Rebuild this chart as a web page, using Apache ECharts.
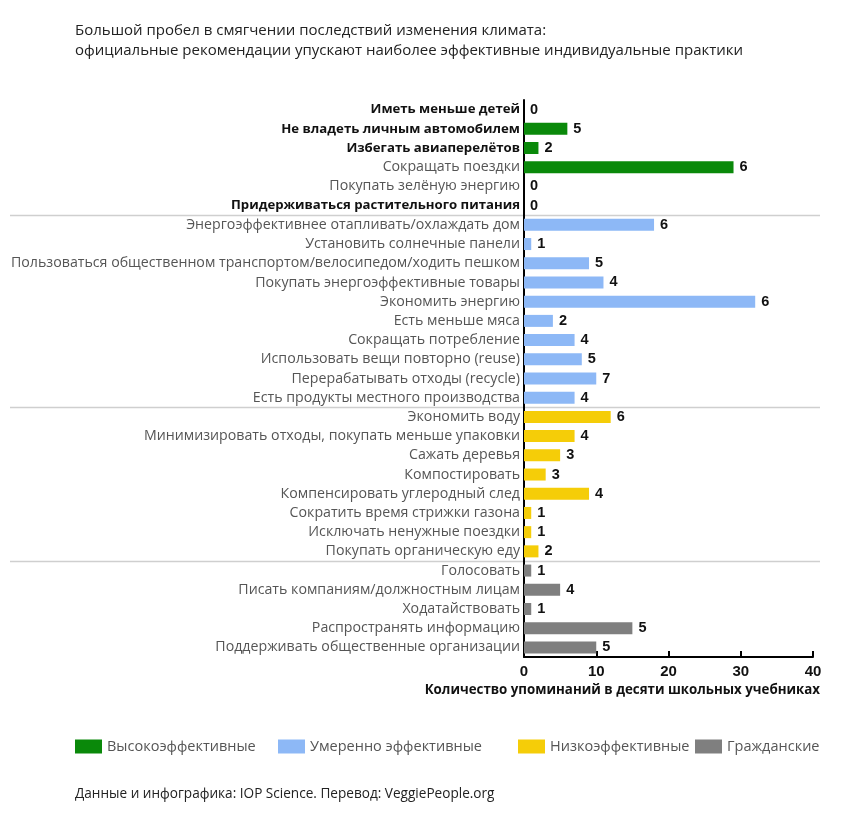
<!DOCTYPE html>
<html><head><meta charset="utf-8">
<script src="https://cdn.jsdelivr.net/npm/echarts@6/dist/echarts.min.js"></script>
<style>html,body{margin:0;padding:0;background:#fff}#c{width:850px;height:827px}</style>
</head><body><div id="c"></div>
<script>
const categories = [
  'Иметь меньше детей','Не владеть личным автомобилем','Избегать авиаперелётов','Сокращать поездки','Покупать зелёную энергию','Придерживаться растительного питания',
  'Энергоэффективнее отапливать/охлаждать дом','Установить солнечные панели','Пользоваться общественном транспортом/велосипедом/ходить пешком','Покупать энергоэффективные товары','Экономить энергию','Есть меньше мяса','Сокращать потребление','Использовать вещи повторно (reuse)','Перерабатывать отходы (recycle)','Есть продукты местного производства',
  'Экономить воду','Минимизировать отходы, покупать меньше упаковки','Сажать деревья','Компостировать','Компенсировать углеродный след','Сократить время стрижки газона','Исключать ненужные поездки','Покупать органическую еду',
  'Голосовать','Писать компаниям/должностным лицам','Ходатайствовать','Распространять информацию','Поддерживать общественные организации'
];
const values = [0,6,2,29,0,0, 18,1,9,11,32,4,7,8,10,7, 12,7,5,3,9,1,1,2, 1,5,1,15,10];
const mentions = [0,5,2,6,0,0, 6,1,5,4,6,2,4,5,7,4, 6,4,3,3,4,1,1,2, 1,4,1,5,5];
const groupOf = [0,0,0,0,0,0, 1,1,1,1,1,1,1,1,1,1, 2,2,2,2,2,2,2,2, 3,3,3,3,3];
const groupNames = ['Высокоэффективные','Умеренно эффективные','Низкоэффективные','Гражданские'];
const groupColors = ['#0a890a','#8db8f6','#f5cd08','#7f7f7f'];
const boldCats = ['Иметь меньше детей','Не владеть личным автомобилем','Избегать авиаперелётов','Придерживаться растительного питания'];
const xTicks = [0,10,20,30,40];

const FONT = "'Open Sans', 'Noto Sans', sans-serif";
const chart = echarts.init(document.getElementById('c'));
const legendX = [75, 278, 518, 695];

const series = groupNames.map((g, gi) => ({
  name: g,
  type: 'bar',
  stack: 'all',
  barWidth: 12,
  itemStyle: { color: groupColors[gi] },
  data: values.map((v, k) => groupOf[k] === gi ? v : '-'),
  label: {
    show: true, position: 'right', distance: 6,
    fontFamily: 'Liberation Sans, Arial, sans-serif', fontWeight: 'bold', fontSize: 14.5, color: '#111',
    formatter: p => String(mentions[p.dataIndex])
  }
}));

chart.setOption({
  animation: false,
  title: [
    { text: 'Большой пробел в смягчении последствий изменения климата:\nофициальные рекомендации упускают наиболее эффективные индивидуальные практики',
      left: 75, top: 21, padding: 0, textStyle: { fontFamily: FONT, fontSize: 15, fontWeight: 'normal', color: '#222', lineHeight: 20 } },
    { text: 'Количество упоминаний в десяти школьных учебниках', right: 30, top: 684, padding: 0,
      textStyle: { fontFamily: FONT, fontSize: 13.3, fontWeight: 'bold', color: '#111' } },
    { text: 'Данные и инфографика: IOP Science. Перевод: VeggiePeople.org', left: 75, top: 787, padding: 0,
      textStyle: { fontFamily: FONT, fontSize: 13.6, fontWeight: 'normal', color: '#222' } }
  ],
  legend: groupNames.map((g, i) => ({
    data: [g], left: legendX[i], top: 739, padding: 0, itemWidth: 27, itemHeight: 14, itemGap: 0,
    icon: 'rect', textStyle: { fontFamily: FONT, fontSize: 14.5, color: '#555' }, selectedMode: false
  })),
  grid: { left: 524, right: 37, top: 100, bottom: 170, containLabel: false },
  xAxis: {
    type: 'value', min: 0, max: 40, interval: 10,
    axisLine: { show: true, lineStyle: { color: '#000', width: 2 } },
    axisTick: { show: true, inside: true, length: 6, lineStyle: { color: '#000', width: 2 } },
    axisLabel: { fontFamily: 'Liberation Sans, Arial, sans-serif', fontWeight: 'bold', fontSize: 15, color: '#111', margin: 7,
      formatter: v => xTicks.includes(v) ? String(v) : '' },
    splitLine: { show: false }
  },
  yAxis: {
    type: 'category', inverse: true, data: categories,
    axisLine: { show: true, lineStyle: { color: '#000', width: 2 } },
    axisTick: { show: false },
    axisLabel: {
      margin: 4, interval: 0,
      formatter: v => boldCats.includes(v) ? '{b|' + v + '}' : '{n|' + v + '}',
      rich: {
        b: { fontFamily: FONT, fontSize: 13.2, fontWeight: 'bold', color: '#111' },
        n: { fontFamily: FONT, fontSize: 14.2, color: '#555' }
      }
    }
  },
  series: series
});

// separators between groups
const seps = [];
for (let k = 1; k < categories.length; k++) {
  if (groupOf[k] !== groupOf[k - 1]) {
    const y1 = chart.convertToPixel({ yAxisIndex: 0 }, k - 1);
    const y2 = chart.convertToPixel({ yAxisIndex: 0 }, k);
    const y = Math.round((y1 + y2) / 2) + 0.5;
    seps.push({ type: 'line', shape: { x1: 10, y1: y, x2: 820, y2: y }, style: { stroke: '#cfcfcf', lineWidth: 1.5 }, z: 0 });
  }
}
chart.setOption({ graphic: seps });
</script></body></html>
